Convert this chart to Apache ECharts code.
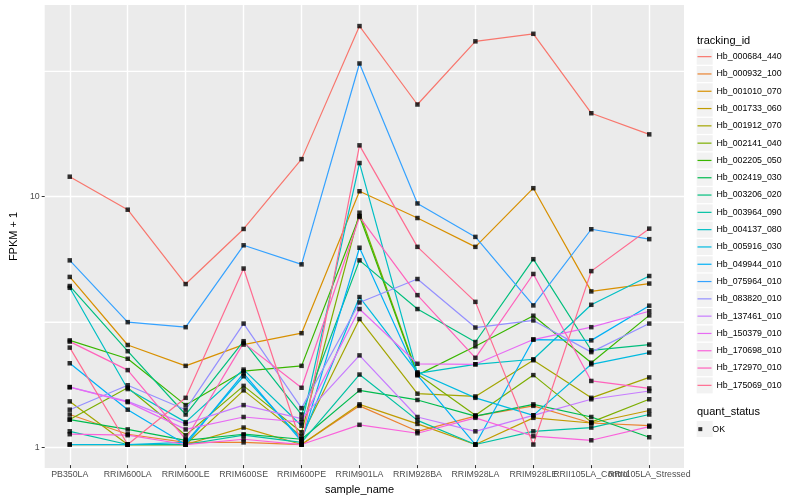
<!DOCTYPE html>
<html>
<head>
<meta charset="utf-8">
<script src="https://cdn.jsdelivr.net/npm/echarts@6/dist/echarts.min.js"></script>
<style>html,body{margin:0;padding:0;background:#fff}#c{width:800px;height:500px}</style>
</head>
<body>
<div id="c"></div>
<script>
const categories = ['PB350LA','RRIM600LA','RRIM600LE','RRIM600SE','RRIM600PE','RRIM901LA','RRIM928BA','RRIM928LA','RRIM928LE','RRII105LA_Control','RRII105LA_Stressed'];
const seriesNames = ['Hb_000684_440','Hb_000932_100','Hb_001010_070','Hb_001733_060','Hb_001912_070','Hb_002141_040','Hb_002205_050','Hb_002419_030','Hb_003206_020','Hb_003964_090','Hb_004137_080','Hb_005916_030','Hb_049944_010','Hb_075964_010','Hb_083820_010','Hb_137461_010','Hb_150379_010','Hb_170698_010','Hb_172970_010','Hb_175069_010'];
const hb000684_440 = [11.9, 8.77, 4.41, 7.34, 14.0, 47.9, 23.2, 41.6, 44.6, 21.4, 17.6];
const hb000932_100 = [1.32, 1.10, 1.02, 1.02, 1.00, 1.43, 1.13, 1.30, 1.43, 1.22, 1.19];
const hb001010_070 = [4.71, 2.51, 2.07, 2.52, 2.80, 10.4, 8.12, 6.22, 10.7, 4.12, 4.43];
const hb001733_060 = [1.00, 1.00, 1.00, 1.17, 1.00, 1.45, 1.21, 1.00, 1.28, 1.22, 1.37];
const hb001912_070 = [1.49, 1.00, 1.00, 1.65, 1.08, 3.19, 1.60, 1.56, 2.18, 1.54, 1.86];
const hb002141_040 = [1.26, 1.69, 1.09, 1.72, 1.12, 8.53, 1.92, 1.31, 1.90, 1.23, 1.52];
const hb002205_050 = [2.62, 2.21, 1.44, 1.97, 2.07, 8.27, 1.90, 2.48, 3.29, 2.13, 3.30];
const hb002419_030 = [1.26, 1.15, 1.04, 1.10, 1.05, 1.65, 1.51, 1.30, 1.45, 1.29, 1.07];
const hb003206_020 = [4.33, 2.37, 1.32, 2.60, 1.32, 5.49, 3.50, 2.58, 5.55, 2.39, 2.52];
const hb003964_090 = [1.13, 1.00, 1.00, 1.09, 1.02, 1.91, 1.25, 1.00, 1.13, 1.17, 1.32];
const hb004137_080 = [4.26, 1.67, 1.23, 2.00, 1.19, 13.5, 1.93, 2.10, 2.20, 3.64, 4.75];
const hb005916_030 = [1.00, 1.00, 1.02, 1.88, 1.05, 3.91, 1.95, 1.54, 1.31, 2.10, 2.34];
const hb049944_010 = [2.12, 1.38, 1.00, 1.93, 1.03, 6.17, 1.90, 1.00, 2.64, 2.62, 3.61];
const hb075964_010 = [5.49, 3.10, 2.96, 6.31, 5.29, 33.9, 9.29, 6.82, 3.62, 7.32, 6.68];
const hb083820_010 = [1.38, 1.73, 1.38, 3.06, 1.40, 3.72, 4.62, 2.95, 3.15, 2.35, 3.06];
const hb137461_010 = [1.70, 1.49, 1.21, 1.44, 1.27, 2.28, 1.29, 1.13, 1.31, 1.52, 1.64];
const hb150379_010 = [1.70, 1.48, 1.15, 1.29, 1.23, 3.50, 2.11, 2.10, 2.64, 2.96, 3.43];
const hb170698_010 = [1.10, 1.09, 1.00, 1.05, 1.00, 1.20, 1.11, 1.28, 1.08, 1.04, 1.18];
const hb172970_010 = [2.59, 1.99, 1.05, 2.56, 1.69, 8.20, 3.98, 2.23, 4.84, 1.80, 1.68];
const hb175069_010 = [2.45, 1.00, 1.54, 5.09, 1.00, 15.9, 6.22, 3.74, 1.00, 4.97, 7.36];
const yMajorTicks = [1, 10];
const yMinorTicks = [3.1623, 31.623];
const quantStatus = 'OK';

const seriesValues = [hb000684_440, hb000932_100, hb001010_070, hb001733_060, hb001912_070, hb002141_040, hb002205_050, hb002419_030, hb003206_020, hb003964_090, hb004137_080, hb005916_030, hb049944_010, hb075964_010, hb083820_010, hb137461_010, hb150379_010, hb170698_010, hb172970_010, hb175069_010];
const palette = ['#F8766D','#EA8331','#D89000','#C09B00','#A3A500','#7CAE00','#39B600','#00BB4E','#00BF7D','#00C1A3','#00BFC4','#00BAE0','#00B0F6','#35A2FF','#9590FF','#C77CFF','#E76BF3','#FA62DB','#FF62BC','#FF6C91'];

const FONT = '"Liberation Sans", Arial, Helvetica, sans-serif';
const yMin = Math.pow(10, -0.0826), yMax = Math.pow(10, 1.765);
const panel = {left: 35, top: 5, width: 649, height: 463};
const unit = panel.width / (categories.length - 1 + 1.2);

const lineSeries = seriesNames.map((n, i) => ({
  name: n, type: 'line', xAxisIndex: 1, yAxisIndex: 1,
  data: seriesValues[i], symbol: 'none', silent: true, clip: false,
  lineStyle: {width: 1.2, color: palette[i]}, itemStyle: {color: palette[i]},
  z: 3
}));
const pts = [];
seriesValues.forEach(arr => arr.forEach((v, j) => pts.push([categories[j], v])));
const pointSeries = {
  name: quantStatus, type: 'scatter', xAxisIndex: 1, yAxisIndex: 1, data: pts,
  symbol: 'rect', symbolSize: 4.5, itemStyle: {color: '#000'}, silent: true, clip: false, z: 4
};
// minor horizontal grid lines (log-scale midpoints), spanning the whole panel
const minorGridSeries = yMinorTicks.map(v => ({
  name: 'minor-grid-' + v, type: 'line', xAxisIndex: 0, yAxisIndex: 0,
  data: [[0, v], [1, v]], symbol: 'none', silent: true, z: 1,
  lineStyle: {color: '#FFFFFF', width: 1.1}
}));

const keyRects = [];
for (let i = 0; i < seriesNames.length; i++) {
  keyRects.push({type: 'rect', left: 696.7, top: 48.7 + 17.3 * i, shape: {width: 16, height: 16}, style: {fill: '#F2F2F2'}, silent: true, z: -1});
}
keyRects.push({type: 'rect', left: 696.7, top: 421, shape: {width: 16, height: 16}, style: {fill: '#F2F2F2'}, silent: true, z: -1});

const chart = echarts.init(document.getElementById('c'), null, {renderer: 'canvas'});
chart.setOption({
  animation: false,
  backgroundColor: '#fff',
  color: palette,
  textStyle: {fontFamily: FONT},
  title: [
    {text: 'tracking_id', left: 697, top: 35, padding: 0, textStyle: {fontSize: 11, fontWeight: 'normal', color: '#000', fontFamily: FONT}},
    {text: 'quant_status', left: 697, top: 406.5, padding: 0, textStyle: {fontSize: 11, fontWeight: 'normal', color: '#000', fontFamily: FONT}}
  ],
  legend: [
    {data: seriesNames, orient: 'vertical', left: 697.5, top: 48, padding: 0, itemGap: 0,
     itemWidth: 14, itemHeight: 1.2, icon: 'rect', selectedMode: false,
     textStyle: {fontSize: 8.8, color: '#000', lineHeight: 17.3, fontFamily: FONT}},
    {data: [quantStatus], orient: 'vertical', left: 698.3, top: 420.5, padding: 0,
     itemWidth: 14, itemHeight: 4, icon: 'path://M0,0L1,0L1,1L0,1Z', symbolKeepAspect: true, selectedMode: false,
     textStyle: {fontSize: 8.8, color: '#000', lineHeight: 17.3, fontFamily: FONT}}
  ],
  graphic: keyRects,
  grid: [
    {left: panel.left, top: panel.top, width: panel.width, height: panel.height, show: true, backgroundColor: '#EBEBEB', borderWidth: 0, containLabel: false},
    {left: panel.left + unit * 0.6, top: panel.top, width: panel.width - unit * 1.2, height: panel.height, show: false, containLabel: false},
    {left: panel.left, top: panel.top, width: panel.width, height: panel.height, show: false, containLabel: false}
  ],
  xAxis: [
    {gridIndex: 0, type: 'value', show: false, min: 0, max: 1},
    {gridIndex: 1, type: 'category', data: categories, boundaryGap: false,
     name: 'sample_name', nameLocation: 'middle', nameGap: 15,
     nameTextStyle: {fontSize: 11, color: '#000', fontFamily: FONT},
     axisLine: {show: false},
     axisTick: {show: true, length: 3, interval: 0, lineStyle: {color: '#333333', width: 1}},
     axisLabel: {interval: 0, fontSize: 8.8, color: '#4D4D4D', margin: 5, hideOverlap: false, fontFamily: FONT},
     splitLine: {show: true, interval: 0, lineStyle: {color: '#FFFFFF', width: 1.4}}},
    {gridIndex: 2, type: 'value', show: false, min: 0, max: 1}
  ],
  yAxis: [
    {gridIndex: 0, type: 'log', logBase: 10, min: yMin, max: yMax, position: 'left',
     name: 'FPKM + 1', nameLocation: 'middle', nameGap: 17, nameRotate: 90,
     nameTextStyle: {fontSize: 11, color: '#000', fontFamily: FONT},
     axisLine: {show: false},
     axisTick: {show: true, length: 3, customValues: yMajorTicks, lineStyle: {color: '#333333', width: 1}},
     axisLabel: {customValues: yMajorTicks, fontSize: 8.8, color: '#4D4D4D', margin: 5, fontFamily: FONT},
     splitLine: {show: true, lineStyle: {color: '#FFFFFF', width: 1.4}}},
    {gridIndex: 1, type: 'log', logBase: 10, min: yMin, max: yMax, show: false},
    {gridIndex: 2, type: 'log', logBase: 10, min: yMin, max: yMax, position: 'right',
     axisLine: {show: false},
     axisTick: {show: true, length: 2, customValues: yMinorTicks, lineStyle: {color: 'rgba(0,0,0,0)'}},
     axisLabel: {show: true, customValues: yMinorTicks, color: 'rgba(0,0,0,0)', formatter: () => ''},
     splitLine: {show: true, lineStyle: {color: '#FFFFFF', width: 1.1}}}
  ],
  series: minorGridSeries.concat(lineSeries, [pointSeries])
});
</script>
</body>
</html>
